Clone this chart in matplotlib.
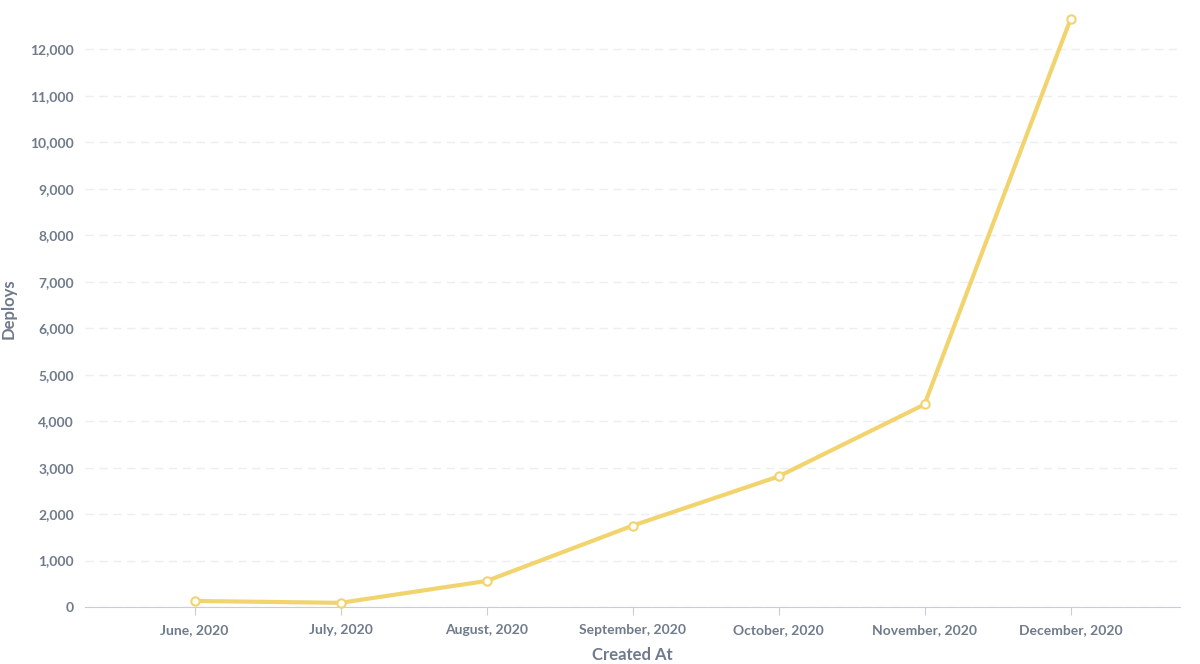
from matplotlib import pyplot as plt
import matplotlib

matplotlib.rcParams['font.family'] = ['Lato', 'DejaVu Sans']

months = ['June, 2020', 'July, 2020', 'August, 2020', 'September, 2020',
          'October, 2020', 'November, 2020', 'December, 2020']
deploys = [130, 90, 560, 1750, 2810, 4360, 12650]
yticks = list(range(0, 12001, 1000))

text_col = '#6f7a8b'
line_col = '#f2d46f'

fig = plt.figure(figsize=(12, 6.64), dpi=100)
ax = fig.add_axes([85 / 1200, 1 - 607 / 664, 1095 / 1200, 597 / 664])

x = range(len(months))
ax.plot(x, deploys, color=line_col, linewidth=3, marker='o', markersize=6,
        markerfacecolor='white', markeredgecolor=line_col, markeredgewidth=1.5,
        clip_on=False, zorder=3)

ax.set_xlim(-0.75, 6.75)
ax.set_ylim(0, 12850)
ax.set_xticks(list(x))
ax.set_xticklabels(months)
ax.set_yticks(yticks)
ax.set_yticklabels([f'{v:,}' for v in yticks])
ax.tick_params(axis='both', colors=text_col, labelsize=10, length=0, pad=8)
ax.tick_params(axis='x', length=6, color='#c9ced6', pad=6)
for lbl in ax.get_xticklabels() + ax.get_yticklabels():
    lbl.set_fontweight('bold')

ax.grid(axis='y', color='#eceef1', linestyle=(0, (6, 4)), linewidth=1)
ax.set_axisbelow(True)
for s in ['top', 'right', 'left']:
    ax.spines[s].set_visible(False)
ax.spines['bottom'].set_color('#c9ced6')

ax.set_xlabel('Created At', color=text_col, fontsize=12, fontweight='bold', labelpad=8)
ax.set_ylabel('Deploys', color=text_col, fontsize=12, fontweight='bold', labelpad=10)

fig.savefig('out.png')
